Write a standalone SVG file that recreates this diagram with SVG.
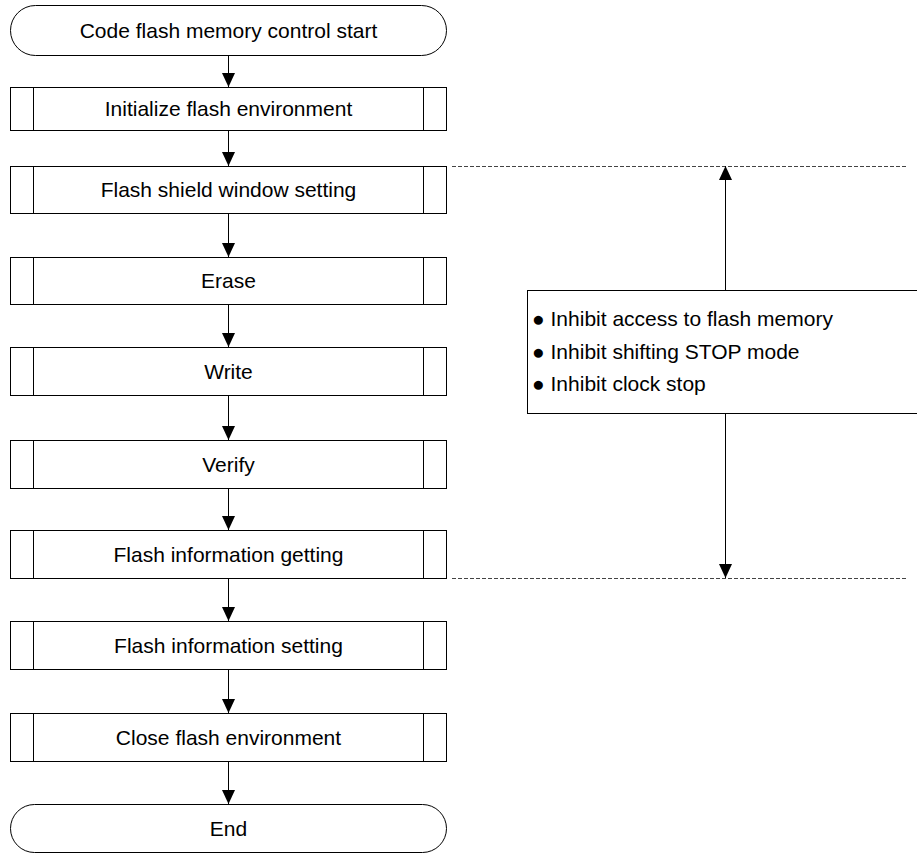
<svg xmlns="http://www.w3.org/2000/svg" width="917" height="854" viewBox="0 0 917 854">
<style>
.shape{fill:#fff;stroke:#000;stroke-width:1}
.t{font-family:"Liberation Sans",Arial,sans-serif;font-size:21px;fill:#000;text-anchor:middle}
.n{font-family:"Liberation Sans",Arial,sans-serif;font-size:21px;fill:#000}
.c{stroke:#000;stroke-width:1;fill:none}
.d{stroke:#444;stroke-width:1;stroke-dasharray:4 2;fill:none}
</style>
<defs>
<marker id="ahu" viewBox="0 0 13 14" refX="6.5" refY="0" markerWidth="13" markerHeight="14" markerUnits="userSpaceOnUse" orient="0">
<path d="M0,14 L13,14 L6.5,0 Z" fill="#000"/>
</marker>
<marker id="ahd" viewBox="0 0 13 14" refX="6.5" refY="14" markerWidth="13" markerHeight="14" markerUnits="userSpaceOnUse" orient="0">
<path d="M0,0 L13,0 L6.5,14 Z" fill="#000"/>
</marker>
</defs>
<g id="connectors">
<line class="c" x1="228.5" y1="55" x2="228.5" y2="87" marker-end="url(#ahd)"/>
<line class="c" x1="228.5" y1="130" x2="228.5" y2="166" marker-end="url(#ahd)"/>
<line class="c" x1="228.5" y1="213" x2="228.5" y2="257" marker-end="url(#ahd)"/>
<line class="c" x1="228.5" y1="304" x2="228.5" y2="347" marker-end="url(#ahd)"/>
<line class="c" x1="228.5" y1="395" x2="228.5" y2="440" marker-end="url(#ahd)"/>
<line class="c" x1="228.5" y1="488" x2="228.5" y2="530" marker-end="url(#ahd)"/>
<line class="c" x1="228.5" y1="578" x2="228.5" y2="621" marker-end="url(#ahd)"/>
<line class="c" x1="228.5" y1="669" x2="228.5" y2="713" marker-end="url(#ahd)"/>
<line class="c" x1="228.5" y1="761" x2="228.5" y2="804" marker-end="url(#ahd)"/>
<line class="d" x1="452" y1="166.5" x2="906" y2="166.5"/>
<line class="d" x1="452" y1="578.5" x2="906" y2="578.5"/>
<line class="c" x1="725.5" y1="290" x2="725.5" y2="166" marker-end="url(#ahu)"/>
<line class="c" x1="725.5" y1="413" x2="725.5" y2="578" marker-end="url(#ahd)"/>
</g>
<g id="start">
<rect class="shape" x="10.5" y="5.5" width="436" height="50" rx="25" ry="25"/>
<text class="t" x="228.5" y="37.5">Code flash memory control start</text>
</g>
<g id="init">
<rect class="shape" x="10.5" y="87.5" width="436" height="43"/>
<line class="c" x1="33.5" y1="87.5" x2="33.5" y2="130.5"/><line class="c" x1="423.5" y1="87.5" x2="423.5" y2="130.5"/>
<text class="t" x="228.5" y="116">Initialize flash environment</text>
</g>
<g id="shield">
<rect class="shape" x="10.5" y="166.5" width="436" height="47"/>
<line class="c" x1="33.5" y1="166.5" x2="33.5" y2="213.5"/><line class="c" x1="423.5" y1="166.5" x2="423.5" y2="213.5"/>
<text class="t" x="228.5" y="197">Flash shield window setting</text>
</g>
<g id="erase">
<rect class="shape" x="10.5" y="257.5" width="436" height="47"/>
<line class="c" x1="33.5" y1="257.5" x2="33.5" y2="304.5"/><line class="c" x1="423.5" y1="257.5" x2="423.5" y2="304.5"/>
<text class="t" x="228.5" y="288">Erase</text>
</g>
<g id="write">
<rect class="shape" x="10.5" y="347.5" width="436" height="48"/>
<line class="c" x1="33.5" y1="347.5" x2="33.5" y2="395.5"/><line class="c" x1="423.5" y1="347.5" x2="423.5" y2="395.5"/>
<text class="t" x="228.5" y="378.5">Write</text>
</g>
<g id="verify">
<rect class="shape" x="10.5" y="440.5" width="436" height="48"/>
<line class="c" x1="33.5" y1="440.5" x2="33.5" y2="488.5"/><line class="c" x1="423.5" y1="440.5" x2="423.5" y2="488.5"/>
<text class="t" x="228.5" y="471.5">Verify</text>
</g>
<g id="getinfo">
<rect class="shape" x="10.5" y="530.5" width="436" height="48"/>
<line class="c" x1="33.5" y1="530.5" x2="33.5" y2="578.5"/><line class="c" x1="423.5" y1="530.5" x2="423.5" y2="578.5"/>
<text class="t" x="228.5" y="561.5">Flash information getting</text>
</g>
<g id="setinfo">
<rect class="shape" x="10.5" y="621.5" width="436" height="48"/>
<line class="c" x1="33.5" y1="621.5" x2="33.5" y2="669.5"/><line class="c" x1="423.5" y1="621.5" x2="423.5" y2="669.5"/>
<text class="t" x="228.5" y="652.5">Flash information setting</text>
</g>
<g id="close">
<rect class="shape" x="10.5" y="713.5" width="436" height="48"/>
<line class="c" x1="33.5" y1="713.5" x2="33.5" y2="761.5"/><line class="c" x1="423.5" y1="713.5" x2="423.5" y2="761.5"/>
<text class="t" x="228.5" y="744.5">Close flash environment</text>
</g>
<g id="end">
<rect class="shape" x="10.5" y="804.5" width="436" height="48" rx="24" ry="24"/>
<text class="t" x="228.5" y="835.5">End</text>
</g>
<g id="note">
<rect class="shape" x="527.5" y="290.5" width="400" height="123"/>
<text class="n" x="532" y="326">● Inhibit access to flash memory</text>
<text class="n" x="532" y="359">● Inhibit shifting STOP mode</text>
<text class="n" x="532" y="391">● Inhibit clock stop</text>
</g>
</svg>
